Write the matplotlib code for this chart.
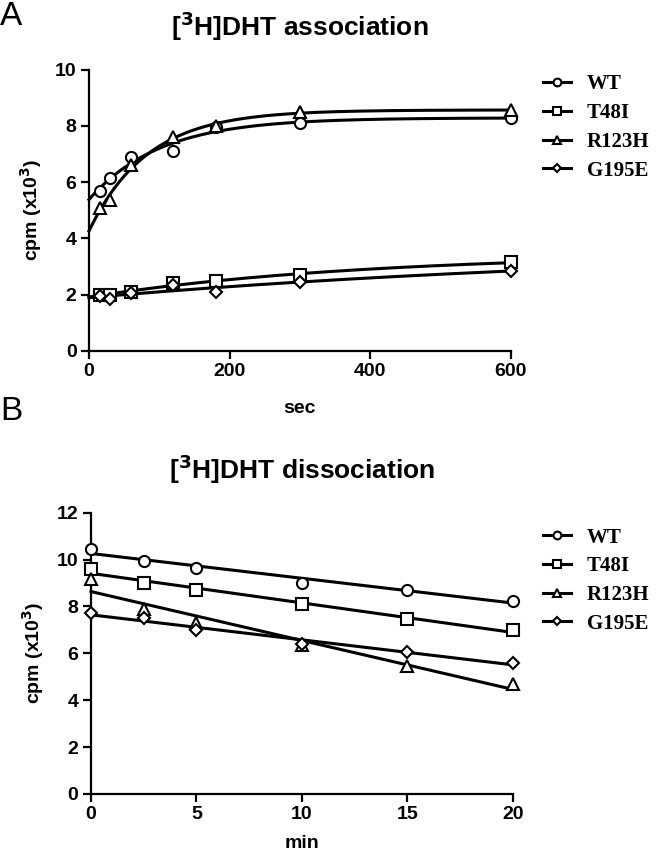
import numpy as np
import matplotlib
matplotlib.use("Agg")
import matplotlib.pyplot as plt

# ---- data (cpm x10^3) ----
assoc_time = [15, 30, 60, 120, 180, 300, 600]          # sec
assoc_wt = [5.7, 6.15, 6.9, 7.1, 7.95, 8.1, 8.3]
assoc_t48i = [2.0, 2.0, 2.1, 2.4, 2.5, 2.7, 3.15]
assoc_r123h = [5.1, 5.35, 6.6, 7.6, 8.0, 8.5, 8.55]
assoc_g195e = [1.95, 1.85, 2.05, 2.35, 2.1, 2.45, 2.85]

dissoc_time = [0, 2.5, 5, 10, 15, 20]                  # min
dissoc_wt = [10.45, 9.95, 9.65, 9.0, 8.7, 8.25]
dissoc_t48i = [9.6, 9.0, 8.7, 8.1, 7.45, 7.0]
dissoc_r123h = [9.15, 7.9, 7.3, 6.35, 5.45, 4.7]
dissoc_g195e = [7.7, 7.5, 7.0, 6.4, 6.05, 5.6]

labels = ["WT", "T48I", "R123H", "G195E"]
markers = ["o", "s", "^", "D"]
msizes = [8, 8, 8, 6.5]

plt.rcParams["font.family"] = ["Liberation Sans", "DejaVu Sans"]
plt.rcParams["font.weight"] = "bold"


def fit_association(t, y):
    """One-phase association fit, grid search on k + linear LSQ for Y0/plateau."""
    t = np.asarray(t, float)
    y = np.asarray(y, float)
    best = None
    for k in np.logspace(-5, -0.5, 3000):
        e = 1 - np.exp(-k * t)
        A = np.column_stack([1 - e, e])
        coef, *_ = np.linalg.lstsq(A, y, rcond=None)
        err = np.sum((A @ coef - y) ** 2)
        if best is None or err < best[0]:
            best = (err, k, coef)
    _, k, (y0, plateau) = best
    return lambda x: y0 * np.exp(-k * x) + plateau * (1 - np.exp(-k * x))


def style_axes(ax):
    for s in ["top", "right"]:
        ax.spines[s].set_visible(False)
    for s in ["left", "bottom"]:
        ax.spines[s].set_linewidth(1.6)
    ax.tick_params(direction="out", length=6, width=1.6, labelsize=14, pad=3)
    for lab in ax.get_xticklabels() + ax.get_yticklabels():
        lab.set_fontweight("bold")


def add_legend(ax, handles, top_fig):
    leg = ax.legend(handles, labels, loc="upper left",
                    bbox_to_anchor=(0.828, top_fig), bbox_transform=fig.transFigure,
                    frameon=False, borderpad=0, borderaxespad=0,
                    handlelength=1.35, handletextpad=0.75, labelspacing=0.42,
                    markerscale=0.7,
                    prop={"family": "Liberation Serif", "weight": "bold", "size": 15})
    return leg


fig = plt.figure(figsize=(6.56, 8.55), dpi=100)
axA = fig.add_axes([0.1357, 0.5895, 0.643, 0.329])
axB = fig.add_axes([0.1387, 0.0714, 0.643, 0.329])

# ---- A: association ----
xs = np.linspace(0, 600, 300)
handles = []
for series, m, ms in zip([assoc_wt, assoc_t48i, assoc_r123h, assoc_g195e], markers, msizes):
    f = fit_association(assoc_time, series)
    axA.plot(xs, f(xs), color="black", lw=2.2, zorder=2, clip_on=False)
    axA.plot(assoc_time, series, linestyle="none", marker=m, ms=ms, mfc="white",
             mec="black", mew=1.5, zorder=3, clip_on=False)
    h, = axA.plot([], [], color="black", lw=2.2, marker=m, ms=ms, mfc="white",
                  mec="black", mew=1.5)
    handles.append(h)

axA.set_xlim(0, 600)
axA.set_ylim(0, 10)
axA.set_xticks([0, 200, 400, 600])
axA.set_yticks(range(0, 11, 2))
axA.set_xlabel("sec", fontsize=14, fontweight="bold", labelpad=14)
axA.set_ylabel("cpm (x10$^\\mathbf{3}$)", fontsize=14, fontweight="bold", labelpad=8)
axA.set_title("[$^\\mathbf{3}$H]DHT association", fontsize=19, fontweight="bold", pad=24)
style_axes(axA)
add_legend(axA, handles, 0.913)

# ---- B: dissociation ----
xs = np.linspace(0, 20, 100)
handles = []
for series, m, ms in zip([dissoc_wt, dissoc_t48i, dissoc_r123h, dissoc_g195e], markers, msizes):
    slope, icpt = np.polyfit(dissoc_time, series, 1)
    axB.plot(xs, slope * xs + icpt, color="black", lw=2.2, zorder=2, clip_on=False)
    axB.plot(dissoc_time, series, linestyle="none", marker=m, ms=ms, mfc="white",
             mec="black", mew=1.5, zorder=3, clip_on=False)
    h, = axB.plot([], [], color="black", lw=2.2, marker=m, ms=ms, mfc="white",
                  mec="black", mew=1.5)
    handles.append(h)

axB.set_xlim(0, 20)
axB.set_ylim(0, 12)
axB.set_xticks(range(0, 21, 5))
axB.set_yticks(range(0, 13, 2))
axB.set_xlabel("min", fontsize=14, fontweight="bold", labelpad=8)
axB.set_ylabel("cpm (x10$^\\mathbf{3}$)", fontsize=14, fontweight="bold", labelpad=8)
axB.set_title("[$^\\mathbf{3}$H]DHT dissociation", fontsize=19, fontweight="bold", pad=24)
style_axes(axB)
add_legend(axB, handles, 0.383)

fig.text(0.0, 0.999, "A", fontsize=24, fontweight="normal", va="top", ha="left")
fig.text(0.0, 0.537, "B", fontsize=24, fontweight="normal", va="top", ha="left")

plt.savefig("out.png", dpi=100)
